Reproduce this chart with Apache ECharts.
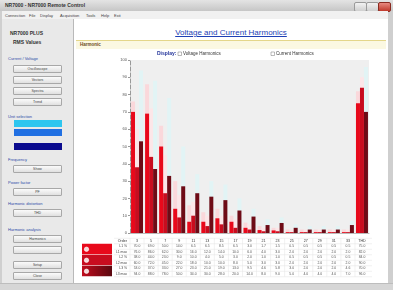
<!DOCTYPE html>
<html>
<head>
<meta charset="utf-8">
<script src="https://cdn.jsdelivr.net/npm/echarts@6/dist/echarts.min.js"></script>
<style>
  body { margin: 0; width: 393px; height: 290px; overflow: hidden; background: #cfcfcf; font-family: "Liberation Sans", Arial, sans-serif; position: relative; }
  .abs { position: absolute; }
  #titlebar { left: 0; top: 0; width: 393px; height: 11px; background: linear-gradient(#e4e4e4, #c6c6c6); }
  #titlebar span { position: absolute; left: 5px; top: 2px; font-size: 5px; color: #333; font-weight: bold; }
  .winbtn { top: 2px; width: 11px; height: 8px; border: 1px solid #9a9a9a; border-radius: 2px; background: linear-gradient(#f2f2f2, #cfcfcf); }
  #menubar { left: 2px; top: 11px; width: 386px; height: 8px; background: #f1f1f1; font-size: 4px; color: #444; }
  #menubar span { position: absolute; top: 2px; }
  #leftpanel { left: 2px; top: 19px; width: 71px; height: 264px; background: #e9e9e9; border-right: 1px solid #b9b9b9; }
  .lbl { position: absolute; font-size: 4px; color: #2b4aa8; left: 6px; }
  .btn { position: absolute; left: 11px; width: 47px; height: 6px; background: linear-gradient(#fbfbfb, #e0e0e0); border: 1px solid #a8a8a8; border-radius: 1px; font-size: 3.5px; color: #444; text-align: center; line-height: 6px; }
  .cbar { position: absolute; left: 12px; width: 48px; height: 7px; }
  #main { left: 74px; top: 19px; width: 314px; height: 264px; background: #fff; }
  #status { left: 0; top: 283px; width: 393px; height: 7px; background: #d6d6d6; border-top: 1px solid #bdbdbd; }
  #chart { left: 78px; top: 49px; width: 305px; height: 234px; }
</style>
</head>
<body>
<div id="titlebar" class="abs"><span>NR7000 - NR7000 Remote Control</span></div>
<div class="abs winbtn" style="left:354px"></div>
<div class="abs winbtn" style="left:366px"></div>
<div class="abs winbtn" style="left:378px;background:linear-gradient(#e88a80,#c0392b);border-color:#8a2a20"></div>
<div id="menubar" class="abs">
  <span style="left:3px">Connection</span><span style="left:27px">File</span><span style="left:38px">Display</span>
  <span style="left:58px">Acquisition</span><span style="left:84px">Tools</span><span style="left:99px">Help</span><span style="left:112px">Exit</span>
</div>
<div id="leftpanel" class="abs">
  <div style="position:absolute;left:8px;top:11px;font-size:5px;color:#333;font-weight:bold">NR7000 PLUS</div>
  <div style="position:absolute;left:11px;top:20px;font-size:5px;color:#333;font-weight:bold">RMS Values</div>
  <div class="lbl" style="top:37px">Current / Voltage</div>
  <div class="btn" style="top:46px">Oscilloscope</div>
  <div class="btn" style="top:57px">Vectors</div>
  <div class="btn" style="top:68px">Spectra</div>
  <div class="btn" style="top:79px">Trend</div>
  <div class="lbl" style="top:95px">Unit selection</div>
  <div class="cbar" style="top:101px;background:#2ec6ef"></div>
  <div class="cbar" style="top:110px;background:#2170e2"></div>
  <div class="cbar" style="top:124px;background:#0b0b8e"></div>
  <div class="lbl" style="top:138px">Frequency</div>
  <div class="btn" style="top:146px">Show</div>
  <div class="lbl" style="top:161px">Power factor</div>
  <div class="btn" style="top:169px">PF</div>
  <div class="lbl" style="top:182px">Harmonic distortion</div>
  <div class="btn" style="top:190px">THD</div>
  <div class="lbl" style="top:208px">Harmonic analysis</div>
  <div class="btn" style="top:216px">Harmonics</div>
  <div class="btn" style="top:227px"></div>
  <div class="btn" style="top:242px">Setup</div>
  <div class="btn" style="top:253px">Close</div>
</div>
<div id="main" class="abs">
  <div style="position:absolute;left:0;width:314px;top:9px;text-align:center;font-size:8px;color:#1d3fb5;text-decoration:underline">Voltage and Current Harmonics</div>
  <div style="position:absolute;left:2px;top:21px;width:310px;height:8px;background:#fbf8e2;border-top:1px solid #e4d68a"><span style="position:absolute;left:4px;top:1px;font-size:4.5px;color:#6b4a1c;font-weight:bold">Harmonic</span></div>
</div>
<div id="status" class="abs"></div>
<div id="chart" class="abs"></div>
<script>
const orders = ['3','5','7','9','11','13','15','17','19','21','23','25','27','29','31','33','THD'];
const yTicks = [0, 10, 20, 30, 40, 50, 60, 70, 80, 90, 100];
const phase1 = [70, 69, 50, 14, 6.5, 6.5, 8.5, 6.5, 3, 1.7, 1.5, 0.5, 0.5, 0.5, 0.5, 0.5, 75];
const phase2 = [38, 44, 23, 9, 10, 4, 5, 3, 2, 1, 1, 0.5, 0.5, 0.5, 0.5, 0.5, 84];
const phase3 = [53, 37, 33, 27, 23, 21, 19, 13, 9.5, 4.6, 5.8, 3, 2, 2, 2, 4.6, 70];
const max1 = [76, 86, 62, 30, 16, 12, 14, 10, 6, 4, 3, 2, 2, 2, 2, 2, 82];
const max2 = [60, 72, 45, 22, 18, 10, 10, 8, 5, 3, 3, 2, 2, 2, 2, 2, 90];
const max3 = [94, 88, 78, 50, 34, 30, 28, 20, 14, 8, 9, 5, 4, 4, 4, 7, 96];
const rowNames = ['L1 %', 'L1 max', 'L2 %', 'L2 max', 'L3 %', 'L3 max'];
const rowData = [phase1, max1, phase2, max2, phase3, max3];

const barColors = ['#e8091b', '#c80d1f', '#6e0b16'];
const ghostColors = ['#fad8db', '#fce6e8', '#e2f4f5'];

const myChart = echarts.init(document.getElementById('chart'));

const barSeries = (name, data, color, axis) => ({
  name: name,
  type: 'bar',
  xAxisIndex: axis,
  yAxisIndex: 0,
  data: data,
  barWidth: 4,
  barGap: '0%',
  barCategoryGap: '20%',
  itemStyle: { color: color },
  silent: true,
  z: axis === 1 ? 1 : 3
});

myChart.setOption({
  animation: false,
  textStyle: { fontFamily: 'Liberation Sans' },
  grid: { left: 52, right: 14, top: 11, bottom: 50, show: true, backgroundColor: '#efefef', borderWidth: 0 },
  xAxis: [
    { type: 'category', data: orders, axisLabel: { show: false }, axisTick: { show: false }, axisLine: { lineStyle: { color: '#bbbbbb' } } },
    { type: 'category', data: orders, show: false }
  ],
  yAxis: {
    type: 'value', min: 0, max: 100, interval: 10,
    axisLine: { show: true, lineStyle: { color: '#999999', type: 'dashed' } },
    axisTick: { show: true, length: 2, lineStyle: { color: '#999999' } },
    splitLine: { show: false },
    axisLabel: { fontSize: 4, color: '#555555', margin: 3, formatter: v => yTicks.includes(v) ? String(v) : '' }
  },
  series: [
    barSeries('max L1', max1, ghostColors[0], 1),
    barSeries('max L2', max2, ghostColors[1], 1),
    barSeries('max L3', max3, ghostColors[2], 1),
    barSeries('L1', phase1, barColors[0], 0),
    barSeries('L2', phase2, barColors[1], 0),
    barSeries('L3', phase3, barColors[2], 0)
  ]
});

// table and legend built from the same arrays, placed on the axis positions
const graphic = [];
const headerY = 192;
const rowH = 5.5;
const tableLeft = 36;
const tableRight = 294;
const colX = orders.map((o, i) => myChart.convertToPixel({ xAxisIndex: 0 }, i));
const step = colX[1] - colX[0];

graphic.push({ type: 'text', left: 79, top: 2, style: { text: 'Display:', fontSize: 5, fontWeight: 'bold', fill: '#23349a' } });
graphic.push({ type: 'rect', shape: { x: 100, y: 3, width: 3.5, height: 3.5 }, style: { fill: '#fff', stroke: '#777', lineWidth: 0.5 } });
graphic.push({ type: 'text', left: 105, top: 2.5, style: { text: 'Voltage Harmonics', fontSize: 4.5, fill: '#333' } });
graphic.push({ type: 'rect', shape: { x: 193, y: 3, width: 3.5, height: 3.5 }, style: { fill: '#fff', stroke: '#777', lineWidth: 0.5 } });
graphic.push({ type: 'text', left: 198, top: 2.5, style: { text: 'Current Harmonics', fontSize: 4.5, fill: '#333' } });

// header row
graphic.push({ type: 'text', x: 49, y: headerY, style: { text: 'Order', fontSize: 3.6, fill: '#333', align: 'right', verticalAlign: 'middle' } });
orders.forEach((o, i) => {
  graphic.push({ type: 'text', x: colX[i], y: headerY, style: { text: o, fontSize: 3.6, fill: '#333', align: 'center', verticalAlign: 'middle' } });
});
rowNames.forEach((name, r) => {
  const y = headerY + (r + 1) * rowH;
  graphic.push({ type: 'text', x: 49, y: y, style: { text: name, fontSize: 3.4, fill: '#444', align: 'right', verticalAlign: 'middle' } });
  rowData[r].forEach((v, i) => {
    graphic.push({ type: 'text', x: colX[i], y: y, style: { text: v.toFixed(1), fontSize: 3.4, fill: '#555', align: 'center', verticalAlign: 'middle' } });
  });
});
for (let r = 0; r <= rowNames.length + 1; r++) {
  const y = headerY - rowH / 2 + r * rowH;
  graphic.push({ type: 'line', shape: { x1: tableLeft, y1: y, x2: tableRight, y2: y }, style: { stroke: '#e0e0e0', lineWidth: 0.5 } });
}
colX.forEach(x => {
  graphic.push({ type: 'line', shape: { x1: x - step / 2, y1: headerY - rowH / 2, x2: x - step / 2, y2: headerY + rowH * 6.5 }, style: { stroke: '#e4e4e4', lineWidth: 0.5 } });
});

// phase swatches at the left of the table
const swatchFill = [
  barColors[0],
  barColors[1],
  new echarts.graphic.LinearGradient(0, 0, 1, 0, [{ offset: 0, color: '#c00c1c' }, { offset: 1, color: '#5a0810' }])
];
swatchFill.forEach((fill, k) => {
  const y = headerY + rowH / 2 + k * rowH * 2;
  graphic.push({ type: 'rect', shape: { x: 4, y: y, width: 30, height: rowH * 2 - 0.5 }, style: { fill: fill } });
  graphic.push({ type: 'circle', shape: { cx: 8.5, cy: y + rowH, r: 2.2 }, style: { fill: '#f6d8d8', stroke: '#fff', lineWidth: 0.6 } });
});

myChart.setOption({ graphic: graphic });
</script>
</body>
</html>
